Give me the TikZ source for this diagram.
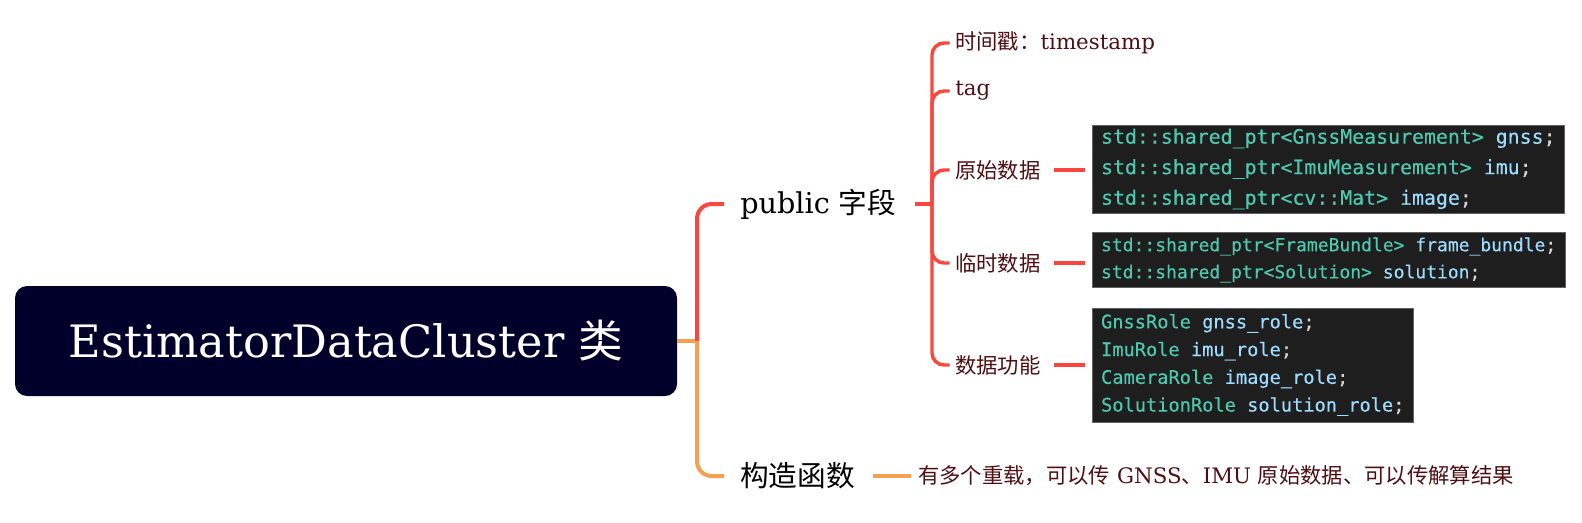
\documentclass[tikz,border=0pt]{standalone}
\usepackage{fontspec}
\setmainfont{DejaVu Serif}
\newfontfamily\cjk{Noto Sans CJK SC}
\newfontfamily\codefont[FakeBold=0.35]{DejaVu Sans Mono}
\definecolor{rootbg}{HTML}{00002A}
\definecolor{brred}{HTML}{F9463F}
\definecolor{brorange}{HTML}{F5A04E}
\definecolor{subtxt}{HTML}{4E0F12}
\definecolor{codebg}{HTML}{1E1E1E}
\definecolor{cty}{HTML}{4EC9B0}
\definecolor{cva}{HTML}{9CDCFE}
\definecolor{cpu}{HTML}{D4D4D4}
\newcommand\ty[1]{\textcolor{cty}{#1}}
\newcommand\va[1]{\textcolor{cva}{#1}}
\newcommand\pu[1]{\textcolor{cpu}{#1}}
\tikzset{
  rootbox/.style={fill=rootbg, rounded corners=9pt, text=white, minimum width=496.5pt, minimum height=82.5pt, inner sep=0pt, font=\fontsize{33.5pt}{40pt}\selectfont},
  lvlone/.style={anchor=west, inner sep=0pt, text=black, font=\fontsize{21.5pt}{26pt}\selectfont},
  lvltwo/.style={anchor=west, inner sep=0pt, text=subtxt, font=\fontsize{16pt}{19pt}\selectfont},
  codebox/.style={anchor=west, fill=codebg, draw=codebg!70!white, line width=0.6pt, align=left, inner xsep=6.5pt, inner ysep=0pt, text=cpu},
  redline/.style={draw=brred, line width=3pt},
  orline/.style={draw=brorange, line width=3pt},
  redthin/.style={draw=brred, line width=2.6pt},
}
\begin{document}
\begin{tikzpicture}[x=0.75pt, y=-0.75pt]
\useasboundingbox (0,0) rectangle (1582,522);
% root
\node[rootbox] (root) at (346,341) {EstimatorDataCluster {\cjk 类}};
% level one
\node[lvlone] (pub) at (740,204) {public {\cjk 字段}};
\node[lvlone] (ctor) at (740,476) {\cjk 构造函数};
\coordinate (j1) at (697,341);
\draw[orline] (root.east) -- (j1);
\draw[redline, rounded corners=11pt] (j1) |- ([xshift=-12pt]pub.west);
\draw[orline, rounded corners=11pt] (j1) |- ([xshift=-12pt]ctor.west);
% level two
\node[lvltwo] (ts) at (955,43) {{\cjk 时间戳：}timestamp};
\node[lvltwo] (tag) at (955,91) {tag};
\node[lvltwo] (raw) at (955,170) {\cjk 原始数据};
\node[lvltwo] (tmp) at (955,263) {\cjk 临时数据};
\node[lvltwo] (fun) at (955,365) {\cjk 数据功能};
\coordinate (j2) at (932,204);
\draw[redline] ([xshift=14pt]pub.east) -- (j2);
\foreach \n in {ts,tag,raw,tmp,fun}{
  \draw[redthin, rounded corners=9pt] (j2) |- ([xshift=-4pt]\n.west);
}
% code boxes
\node[codebox, minimum width=352.5pt, minimum height=66pt, font=\codefont\fontsize{14.9pt}{22.9pt}\selectfont] (c1) at (1092,169)
 {\ty{std::shared\_ptr<GnssMeasurement>} \va{gnss}\pu{;}\\
  \ty{std::shared\_ptr<ImuMeasurement>} \va{imu}\pu{;}\\
  \ty{std::shared\_ptr<cv::Mat>} \va{image}\pu{;}};
\node[codebox, minimum width=351pt, minimum height=41.25pt, font=\codefont\fontsize{13.5pt}{20.3pt}\selectfont] (c2) at (1092,260)
 {\ty{std::shared\_ptr<FrameBundle>} \va{frame\_bundle}\pu{;}\\
  \ty{std::shared\_ptr<Solution>} \va{solution}\pu{;}};
\node[codebox, minimum width=240pt, minimum height=85.5pt, font=\codefont\fontsize{14pt}{20.8pt}\selectfont] (c3) at (1092,365)
 {\ty{GnssRole} \va{gnss\_role}\pu{;}\\
  \ty{ImuRole} \va{imu\_role}\pu{;}\\
  \ty{CameraRole} \va{image\_role}\pu{;}\\
  \ty{SolutionRole} \va{solution\_role}\pu{;}};
\draw[redthin] ([xshift=10pt]raw.east) -- ([xshift=-5pt]c1.west |- raw.east);
\draw[redthin] ([xshift=10pt]tmp.east) -- ([xshift=-5pt]c2.west |- tmp.east);
\draw[redthin] ([xshift=10pt]fun.east) -- ([xshift=-5pt]c3.west |- fun.east);
% constructor description
\node[lvltwo] (desc) at (918,476) {{\cjk 有多个重载，可以传} GNSS{\cjk 、}IMU {\cjk 原始数据、可以传解算结果}};
\draw[orline] ([xshift=13pt]ctor.east) -- ([xshift=-5pt]desc.west);
\end{tikzpicture}
\end{document}
